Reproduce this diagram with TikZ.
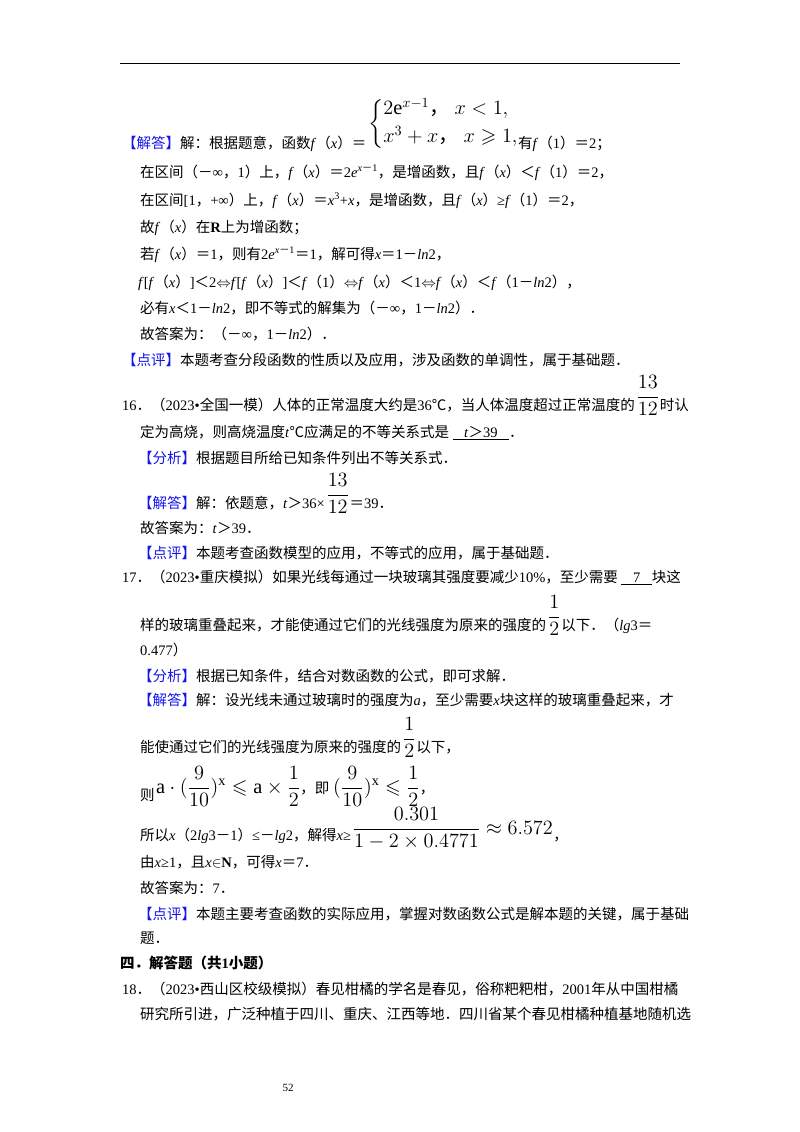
\RequirePackage{fix-cm}
\documentclass[tikz,border=0pt]{standalone}
\usepackage{amsmath,amssymb}
\usepackage{fontspec}
\setmainfont{Liberation Serif}
\newfontfamily\cjk{Noto Sans CJK SC}
\XeTeXinterchartokenstate=1
\newXeTeXintercharclass\CJKcls
\def\setcjkrange#1#2{\count255=#1\relax\loop\XeTeXcharclass\count255=\CJKcls\ifnum\count255<#2\advance\count255 1\repeat}
\setcjkrange{"4E00}{"9FFF}
\setcjkrange{"3000}{"303F}
\setcjkrange{"FF00}{"FFEF}
\XeTeXcharclass"2103=\CJKcls
\XeTeXinterchartoks 0 \CJKcls={\cjk}
\XeTeXinterchartoks 4095 \CJKcls={\cjk}
\XeTeXinterchartoks \CJKcls 0={\rmfamily}
\XeTeXinterchartoks \CJKcls 4095={\rmfamily}
\definecolor{jblue}{RGB}{20,20,235}
\newcommand\bl[1]{\textcolor{jblue}{#1}}
\newcommand\vi[1]{\textit{#1}}
\newcommand\fs{\fontsize{14.5}{17}\selectfont}
\newcommand\mb[1]{\scalebox{1.4}{#1}}
\tikzset{txt/.style={anchor=base west,inner sep=0pt,font=\fs},
 frac/.style={anchor=base west,inner sep=0pt,font=\fs}}
\newcommand\tl[4]{\node[txt] (#1) at (#2,#3) {\fs #4};}
\newcommand\fr[4]{\node[frac] (#1) at ([xshift=1pt,yshift=#3]#2.base east) {\fs #4};}
\begin{document}
\begin{tikzpicture}[x=1pt,y=-1pt]
\useasboundingbox (0,0) rectangle (800,1132);
\draw[line width=0.8pt] (120,63) -- (680,63);
\tl{a1}{122}{148}{\bl{【解答】}解：根据题意，函数\vi{f}（\vi{x}）＝}
\node[anchor=west,inner sep=0pt,font=\fs] (pw) at (368,124) {\mb{$\left\{\begin{array}{@{}l@{}}2\mathrm{e}^{x-1}\text{，}\ x<1,\\[3pt] x^3+x\text{，}\ x\geqslant1,\end{array}\right.$}};
\tl{a1b}{518}{148}{有\vi{f}（1）＝2；}
\tl{a2}{140}{177}{在区间（－∞，1）上，\vi{f}（\vi{x}）＝2\vi{e}\textsuperscript{\vi{x}－1}，是增函数，且\vi{f}（\vi{x}）＜\vi{f}（1）＝2，}
\tl{a3}{140}{205}{在区间[1，+∞）上，\vi{f}（\vi{x}）＝\vi{x}\textsuperscript{3}+\vi{x}，是增函数，且\vi{f}（\vi{x}）≥\vi{f}（1）＝2，}
\tl{a4}{140}{232}{故\vi{f}（\vi{x}）在\textbf{R}上为增函数；}
\tl{a5}{140}{259}{若\vi{f}（\vi{x}）＝1，则有2\vi{e}\textsuperscript{\vi{x}－1}＝1，解可得\vi{x}＝1－\vi{ln}2，}
\tl{a6}{138}{287}{\vi{f}[\vi{f}（\vi{x}）]＜2$\Leftrightarrow$\vi{f}[\vi{f}（\vi{x}）]＜\vi{f}（1）$\Leftrightarrow$\vi{f}（\vi{x}）＜1$\Leftrightarrow$\vi{f}（\vi{x}）＜\vi{f}（1－\vi{ln}2），}
\tl{a7}{140}{313}{必有\vi{x}＜1－\vi{ln}2，即不等式的解集为（－∞，1－\vi{ln}2）．}
\tl{a8}{140}{339}{故答案为：（－∞，1－\vi{ln}2）．}
\tl{a9}{122}{365}{\bl{【点评】}本题考查分段函数的性质以及应用，涉及函数的单调性，属于基础题．}
\tl{b1}{122}{410}{16．（2023•全国一模）人体的正常温度大约是36℃，当人体温度超过正常温度的}
\fr{f1}{b1}{8pt}{\mb{$\dfrac{13}{12}$}}
\node[txt] (b1b) at (b1.base -| f1.east) {\fs 时认};
\tl{b2}{140}{437}{定为高烧，则高烧温度\vi{t}℃应满足的不等关系式是\ \underline{\hspace{0.8em}\vi{t}＞39\hspace{0.8em}}．}
\tl{b3}{138}{463}{\bl{【分析】}根据题目所给已知条件列出不等关系式．}
\tl{b4}{138}{508}{\bl{【解答】}解：依题意，\vi{t}＞36×}
\fr{f2}{b4}{8pt}{\mb{$\dfrac{13}{12}$}}
\node[txt] (b4b) at (b4.base -| f2.east) {\fs ＝39．};
\tl{b5}{140}{533}{故答案为：\vi{t}＞39．}
\tl{b6}{138}{558}{\bl{【点评】}本题考查函数模型的应用，不等式的应用，属于基础题．}
\tl{c1}{122}{582}{17．（2023•重庆模拟）如果光线每通过一块玻璃其强度要减少10\%，至少需要\ \underline{\hspace{0.8em}7\hspace{0.8em}}块这}
\tl{c2}{140}{630}{样的玻璃重叠起来，才能使通过它们的光线强度为原来的强度的}
\fr{f3}{c2}{8pt}{\mb{$\dfrac{1}{2}$}}
\node[txt] (c2b) at (c2.base -| f3.east) {\fs 以下．（\vi{lg}3＝};
\tl{c3}{140}{655}{0.477）}
\tl{c4}{138}{681}{\bl{【分析】}根据已知条件，结合对数函数的公式，即可求解．}
\tl{c5}{138}{705}{\bl{【解答】}解：设光线未通过玻璃时的强度为\vi{a}，至少需要\vi{x}块这样的玻璃重叠起来，才}
\tl{c6}{140}{752}{能使通过它们的光线强度为原来的强度的}
\fr{f4}{c6}{8pt}{\mb{$\dfrac{1}{2}$}}
\node[txt] (c6b) at (c6.base -| f4.east) {\fs 以下，};
\tl{c7}{140}{800}{则}
\fr{f5}{c7}{7pt}{\mb{$\mathrm{a}\cdot(\dfrac{9}{10})^{\mathrm{x}}\leqslant \mathrm{a}\times\dfrac{1}{2}$}，即\ \mb{$(\dfrac{9}{10})^{\mathrm{x}}\leqslant\dfrac{1}{2}$}，}
\tl{c8}{140}{840}{所以\vi{x}（2\vi{lg}3－1）≤－\vi{lg}2，解得\vi{x}≥}
\fr{f6}{c8}{6pt}{\mb{$\dfrac{0.301}{1-2\times0.4771}\approx6.572$}}
\node[txt] (c8b) at (c8.base -| f6.east) {\fs ，};
\tl{c9}{140}{867}{由\vi{x}≥1，且\vi{x}$\in$\textbf{N}，可得\vi{x}＝7．}
\tl{c10}{140}{893}{故答案为：7．}
\tl{c11}{138}{919}{\bl{【点评】}本题主要考查函数的实际应用，掌握对数函数公式是解本题的关键，属于基础}
\tl{c12}{140}{943}{题．}
\tl{d1}{120}{968}{\bfseries 四．解答题（共1小题）}
\tl{d2}{122}{994}{18．（2023•西山区校级模拟）春见柑橘的学名是春见，俗称粑粑柑，2001年从中国柑橘}
\tl{d3}{140}{1019}{研究所引进，广泛种植于四川、重庆、江西等地．四川省某个春见柑橘种植基地随机选}
\node[inner sep=0pt,font=\fontsize{11}{13}\selectfont] (pg) at (288,1088) {52};
\end{tikzpicture}
\end{document}
